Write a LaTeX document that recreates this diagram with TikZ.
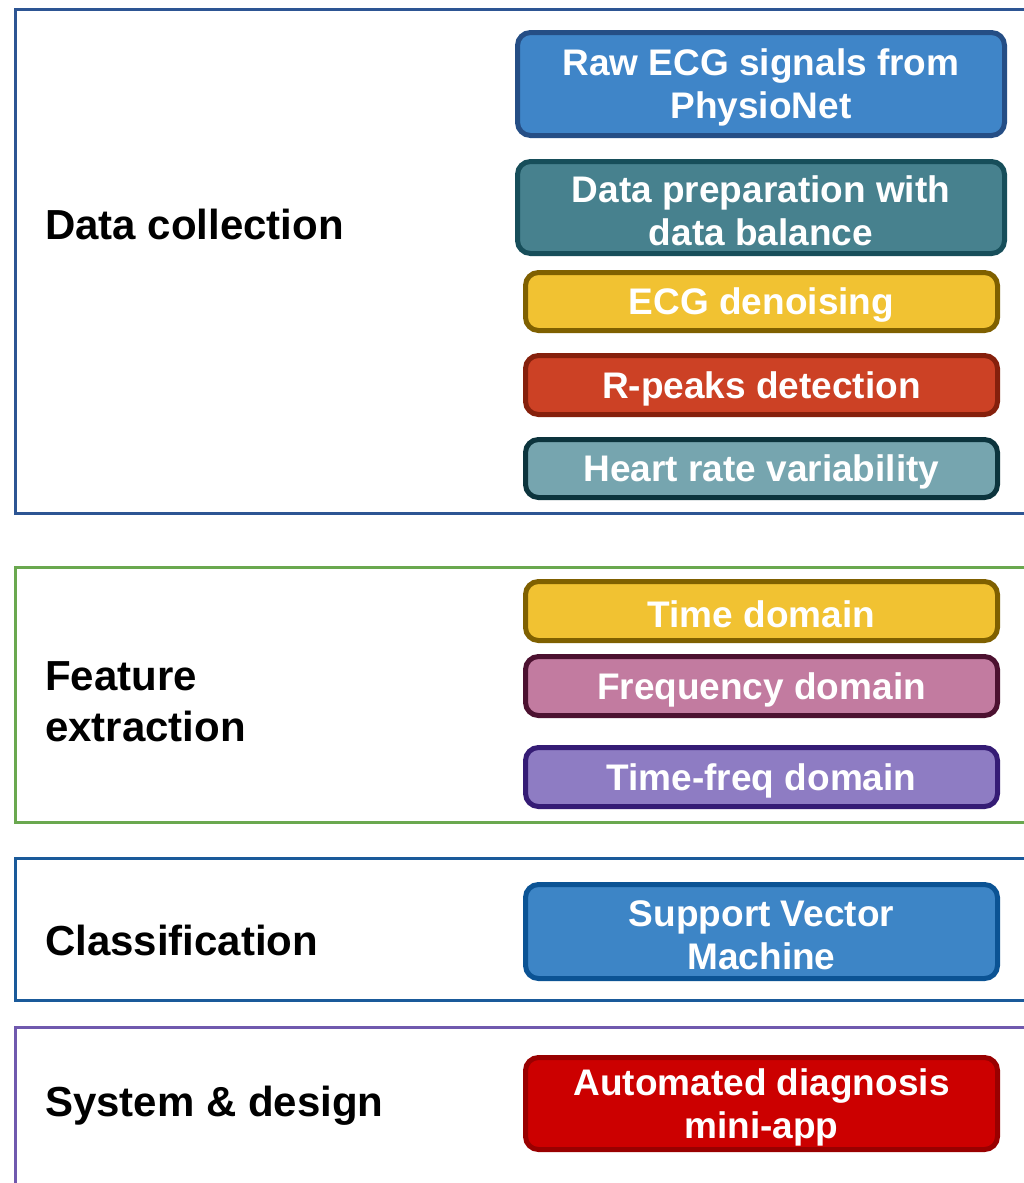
\documentclass[tikz,border=0pt]{standalone}
\usepackage{fontspec}
\setmainfont{Liberation Sans}
\newcommand\dn[1]{\raisebox{-3.5pt}[\height][\depth]{#1}}
\begin{document}
\begin{tikzpicture}[x=1pt,y=-1pt,
  panel/.style={line width=3pt},
  lbl/.style={anchor=west,inner sep=0pt,align=left,font=\fontsize{42}{51}\selectfont\bfseries},
  stepbox/.style={rounded corners=13pt,line width=5pt,text=white,align=center,inner sep=0pt,
     font=\fontsize{37}{43}\selectfont\bfseries},
  wbox/.style={stepbox,minimum width=487pt},
  nbox/.style={stepbox,minimum width=472pt}]
\definecolor{p1}{HTML}{2D5593}
\definecolor{p2}{HTML}{6AA84F}
\definecolor{p3}{HTML}{1A5A9A}
\definecolor{p4}{HTML}{7059AE}
\definecolor{bluef}{HTML}{3F85C8}\definecolor{blued}{HTML}{254E85}
\definecolor{tealf}{HTML}{47818E}\definecolor{teald}{HTML}{174E5A}
\definecolor{yelf}{HTML}{F1C232}\definecolor{yeld}{HTML}{7F6000}
\definecolor{redf}{HTML}{CC4125}\definecolor{redd}{HTML}{85200C}
\definecolor{hrvf}{HTML}{76A5AF}\definecolor{hrvd}{HTML}{0C343D}
\definecolor{frqf}{HTML}{C27BA0}\definecolor{frqd}{HTML}{4C1130}
\definecolor{tff}{HTML}{8E7CC3}\definecolor{tfd}{HTML}{351C75}
\definecolor{svmf}{HTML}{3D85C6}\definecolor{svmd}{HTML}{0B5394}
\definecolor{autof}{HTML}{CC0000}\definecolor{autod}{HTML}{990000}
\useasboundingbox (0,0) rectangle (1024,1183);
\clip (0,0) rectangle (1024,1183);
\fill[white] (0,0) rectangle (1024,1183);
% panels
\draw[panel,p1] (1040,9.5) -- (15,9.5) -- (15,513) -- (1040,513);
\draw[panel,p2] (1040,567.5) -- (15,567.5) -- (15,822) -- (1040,822);
\draw[panel,p3] (1040,858) -- (15,858) -- (15,1000.5) -- (1040,1000.5);
\draw[panel,p4] (1040,1027) -- (15,1027) -- (15,1200);
% labels
\node[lbl] (l1) at (45,224) {Data collection};
\node[lbl] (l2) at (45,702) {Feature\\extraction};
\node[lbl] (l3) at (45,940) {Classification};
\node[lbl] (l4) at (45,1106) {System \& design};
% boxes
\node[wbox,minimum height=103pt,fill=bluef,draw=blued] (raw) at (761,84) {\dn{Raw ECG signals from}\\\dn{PhysioNet}};
\node[wbox,minimum height=92pt,fill=tealf,draw=teald] (prep) at (761,207.5) {\dn{Data preparation with}\\\dn{data balance}};
\node[nbox,minimum height=58pt,fill=yelf,draw=yeld] (den) at (761.5,301.5) {\dn{ECG denoising}};
\node[nbox,minimum height=59pt,fill=redf,draw=redd] (rpk) at (761.5,385) {\dn{R-peaks detection}};
\node[nbox,minimum height=58pt,fill=hrvf,draw=hrvd] (hrv) at (761.5,468.5) {\dn{Heart rate variability}};
\node[nbox,minimum height=59pt,fill=yelf,draw=yeld] (td) at (761.5,611) {\dn{Time domain}};
\node[nbox,minimum height=59pt,fill=frqf,draw=frqd] (fd) at (761.5,686) {\dn{Frequency domain}};
\node[nbox,minimum height=59pt,fill=tff,draw=tfd] (tfq) at (761.5,777) {\dn{Time-freq domain}};
\node[nbox,minimum height=94pt,fill=svmf,draw=svmd] (svm) at (761.5,931.5) {\dn{Support Vector}\\\dn{Machine}};
\node[nbox,minimum height=92pt,fill=autof,draw=autod] (app) at (761.5,1103.5) {\dn{Automated diagnosis}\\\dn{mini-app}};
\end{tikzpicture}
\end{document}
